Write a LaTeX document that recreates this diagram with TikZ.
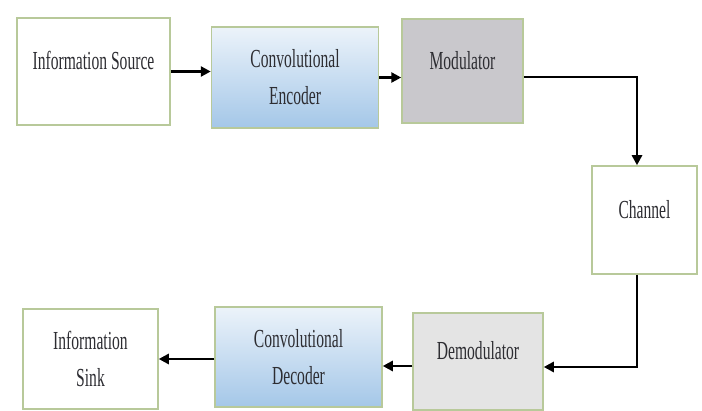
\documentclass[tikz,border=0pt]{standalone}
\usepackage{fontspec}
\setmainfont{Liberation Serif}[FakeStretch=0.6]
\usetikzlibrary{arrows.meta}
\definecolor{boxline}{RGB}{184,201,154}
\definecolor{textgray}{RGB}{45,45,50}
\definecolor{modgray}{RGB}{201,200,204}
\definecolor{demodgray}{RGB}{228,228,228}
\definecolor{bluetop}{RGB}{236,243,250}
\definecolor{bluebottom}{RGB}{164,199,232}
\begin{document}
\begin{tikzpicture}[x=1pt,y=-1pt,
        block/.style={draw=boxline,line width=1.5pt,text=textgray,
          font=\fontsize{26}{37}\selectfont},
        single/.style={block,text depth=22pt},
        twoline/.style={block,align=center},
        shaded/.style={top color=bluetop,bottom color=bluebottom},
        flow/.style={line width=2.8pt,-{Triangle[length=10pt,width=10pt]}}]
        \useasboundingbox (0,0) rectangle (702,411);
        % top row
        \node[single,fill=white,minimum width=153pt,minimum height=107pt] (source) at (93.5,71.5) {Information Source};
        \node[twoline,shaded,minimum width=167pt,minimum height=101pt] (encoder) at (295,77.5) {Convolutional\\Encoder};
        \node[single,fill=modgray,minimum width=121pt,minimum height=104pt] (modulator) at (462.5,71) {Modulator};
        \node[single,fill=white,minimum width=105pt,minimum height=108pt] (channel) at (644.5,220) {Channel};
        % bottom row
        \node[single,fill=demodgray,minimum width=130pt,minimum height=97pt] (demodulator) at (478,361.5) {Demodulator};
        \node[twoline,shaded,minimum width=167pt,minimum height=100pt] (decoder) at (298.5,357) {Convolutional\\Decoder};
        \node[twoline,fill=white,minimum width=135pt,minimum height=100pt] (sink) at (90.5,359) {Information\\Sink};
        \draw[flow] (source.east) -- (source.east -| encoder.west);
        \draw[flow] (encoder.east) -- (encoder.east -| modulator.west);
        \draw[flow] ([yshift=-6pt]modulator.east) -| ([xshift=-7.5pt]channel.north);
        \draw[flow] ([xshift=-7.5pt]channel.south) |- ([yshift=-5.5pt]demodulator.east);
        \draw[flow] ([yshift=-4.5pt]demodulator.west) -- ([yshift=-4.5pt]demodulator.west -| decoder.east);
        \draw[flow] ([yshift=-2pt]decoder.west) -- ([yshift=-2pt]decoder.west -| sink.east);
      \end{tikzpicture}
\end{document}
